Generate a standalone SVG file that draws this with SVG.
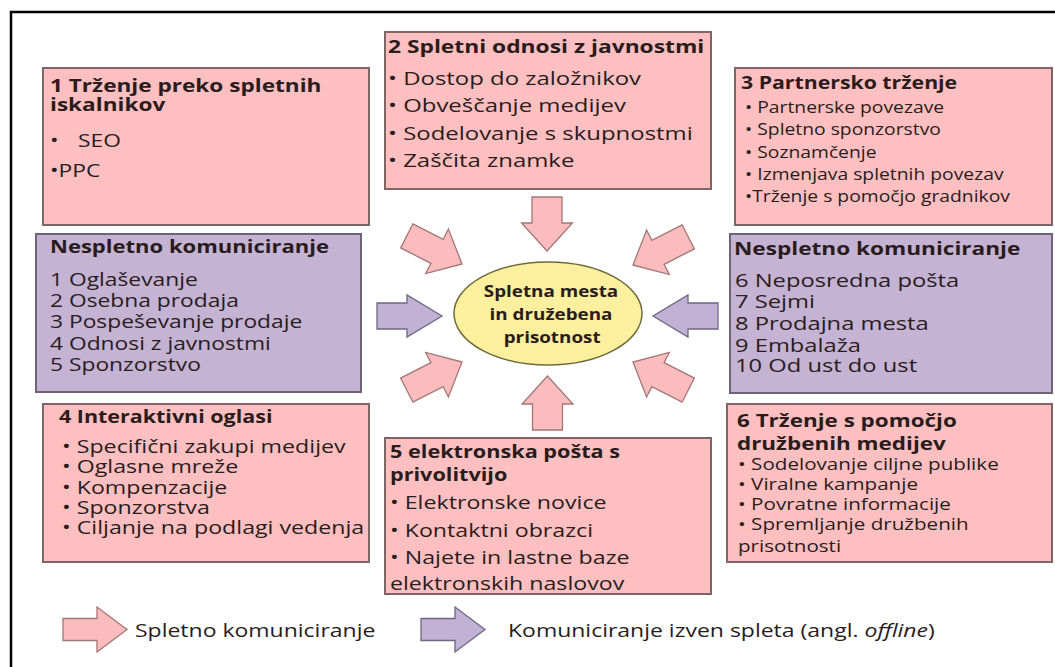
<svg xmlns="http://www.w3.org/2000/svg" width="1055" height="667" viewBox="0 0 1055 667">
  <style>
    .pk { fill: #fdbfc0; stroke: #7e6666; stroke-width: 2; }
    .pu { fill: #c4b3d3; stroke: #6e6276; stroke-width: 2; }
    .ell { fill: #fcef9d; stroke: #6f6a3c; stroke-width: 1.5; }
    .apk { fill: #fbbcbd; stroke: #a37676; stroke-width: 1.3; }
    .apu { fill: #c1b1d5; stroke: #6f6684; stroke-width: 1.3; }
    text { font-family: "Open Sans", "Noto Sans", sans-serif; fill: #2a1c1c; }
    .h { font-weight: bold; font-size: 18px; }
    .b { font-size: 18px; }
    .s { font-size: 16px; }
    .c { font-weight: bold; font-size: 16.5px; text-anchor: middle; }
    .lg { font-size: 19px; }
  </style>
  <defs>
    <!-- block arrows, tip at origin, pointing along +x -->
    <path id="arrV" d="M0,0 L-28,-25.5 L-28,-15 L-54,-15 L-54,15 L-28,15 L-28,25.5 Z"/>
    <path id="arrH" d="M0,0 L-35,-21 L-35,-13 L-65,-13 L-65,13 L-35,13 L-35,21 Z"/>
    <path id="arrD" d="M0,0 L-28,-25 L-28,-13.5 L-62,-13.5 L-62,13.5 L-28,13.5 L-28,25 Z"/>
    <path id="arrL" d="M0,0 L-30,-22.5 L-30,-11 L-64,-11 L-64,11 L-30,11 L-30,22.5 Z"/>
  </defs>

  <!-- frame -->
  <path d="M11,667 L11,12 L1055,12" fill="none" stroke="#000" stroke-width="2.5"/>

  <!-- connectors -->
  <g id="connectors">
    <use href="#arrV" class="apk" transform="translate(547,251) rotate(90)"/>
    <use href="#arrV" class="apk" transform="translate(547.5,376) rotate(-90)"/>
    <use href="#arrH" class="apu" transform="translate(442,316)"/>
    <use href="#arrH" class="apu" transform="translate(653,316) rotate(180)"/>
    <use href="#arrD" class="apk" transform="translate(462,264) rotate(27)"/>
    <use href="#arrD" class="apk" transform="translate(633,265) rotate(153)"/>
    <use href="#arrD" class="apk" transform="translate(462,362) rotate(-27)"/>
    <use href="#arrD" class="apk" transform="translate(633,362) rotate(-153)"/>
  </g>

  <!-- centre -->
  <g id="center">
    <ellipse class="ell" cx="548" cy="313.5" rx="94" ry="51.5"/>
    <g transform="translate(551 0) scale(1.14 1) translate(-551 0)">
      <text class="c" x="551" y="297">Spletna mesta</text>
      <text class="c" x="551" y="320">in družebena</text>
      <text class="c" x="552" y="343">prisotnost</text>
    </g>
  </g>

  <g id="box1">
    <rect class="pk" x="43" y="68" width="326" height="157"/>
    <g transform="translate(50 0) scale(1.256 1) translate(-50 0)">
      <text class="h" x="50" y="92">1 Trženje preko spletnih</text>
      <text class="h" x="50" y="111">iskalnikov</text>
    </g>
    <g transform="translate(50 0) scale(1.267 1) translate(-50 0)">
      <text class="b" x="50" y="147">•<tspan x="72.1">SEO</tspan></text>
      <text class="b" x="50" y="177">•PPC</text>
    </g>
  </g>

  <g id="box2">
    <rect class="pk" x="385" y="32" width="326" height="157"/>
    <g transform="translate(388 0) scale(1.267 1) translate(-388 0)">
      <text class="h" x="388" y="53">2 Spletni odnosi z javnostmi</text>
    </g>
    <g transform="translate(388 0) scale(1.33 1) translate(-388 0)">
      <text class="b" x="388" y="85">• Dostop do založnikov</text>
      <text class="b" x="388" y="112">• Obveščanje medijev</text>
      <text class="b" x="388" y="140">• Sodelovanje s skupnostmi</text>
      <text class="b" x="388" y="167">• Zaščita znamke</text>
    </g>
  </g>

  <g id="box3">
    <rect class="pk" x="735" y="68" width="317" height="157"/>
    <g transform="translate(741 0) scale(1.182 1) translate(-741 0)">
      <text class="h" x="741" y="89">3 Partnersko trženje</text>
    </g>
    <g transform="translate(745 0) scale(1.206 1) translate(-745 0)">
      <text class="s" x="745" y="113">• Partnerske povezave</text>
      <text class="s" x="745" y="135">• Spletno sponzorstvo</text>
      <text class="s" x="745" y="158">• Soznamčenje</text>
      <text class="s" x="745" y="180">• Izmenjava spletnih povezav</text>
      <text class="s" x="745" y="202">•Trženje s pomočjo gradnikov</text>
    </g>
  </g>

  <g id="offline-left">
    <rect class="pu" x="36" y="234" width="325" height="158"/>
    <g transform="translate(50 0) scale(1.224 1) translate(-50 0)">
      <text class="h" x="50" y="253">Nespletno komuniciranje</text>
    </g>
    <g transform="translate(50 0) scale(1.267 1) translate(-50 0)">
      <text class="b" x="50" y="286">1 Oglaševanje</text>
      <text class="b" x="50" y="307">2 Osebna prodaja</text>
      <text class="b" x="50" y="328">3 Pospeševanje prodaje</text>
      <text class="b" x="50" y="350">4 Odnosi z javnostmi</text>
      <text class="b" x="50" y="371">5 Sponzorstvo</text>
    </g>
  </g>

  <g id="offline-right">
    <rect class="pu" x="730" y="234" width="322" height="159"/>
    <g transform="translate(734 0) scale(1.256 1) translate(-734 0)">
      <text class="h" x="734" y="255">Nespletno komuniciranje</text>
    </g>
    <g transform="translate(735 0) scale(1.319 1) translate(-735 0)">
      <text class="b" x="735" y="287">6 Neposredna pošta</text>
      <text class="b" x="735" y="308">7 Sejmi</text>
      <text class="b" x="735" y="330">8 Prodajna mesta</text>
      <text class="b" x="735" y="352">9 Embalaža</text>
      <text class="b" x="735" y="372">10 Od ust do ust</text>
    </g>
  </g>

  <g id="box4">
    <rect class="pk" x="43" y="404" width="326" height="158"/>
    <g transform="translate(59 0) scale(1.193 1) translate(-59 0)">
      <text class="h" x="59" y="423">4 Interaktivni oglasi</text>
    </g>
    <g transform="translate(62 0) scale(1.288 1) translate(-62 0)">
      <text class="b" x="62" y="453">• Specifični zakupi medijev</text>
      <text class="b" x="62" y="473">• Oglasne mreže</text>
      <text class="b" x="62" y="494">• Kompenzacije</text>
      <text class="b" x="62" y="514">• Sponzorstva</text>
      <text class="b" x="62" y="534">• Ciljanje na podlagi vedenja</text>
    </g>
  </g>

  <g id="box5">
    <rect class="pk" x="385" y="438" width="326" height="156"/>
    <g transform="translate(390 0) scale(1.203 1) translate(-390 0)">
      <text class="h" x="390" y="458">5 elektronska pošta s</text>
      <text class="h" x="390" y="481">privolitvijo</text>
    </g>
    <g transform="translate(390 0) scale(1.288 1) translate(-390 0)">
      <text class="b" x="390" y="509">• Elektronske novice</text>
      <text class="b" x="390" y="537">• Kontaktni obrazci</text>
      <text class="b" x="390" y="564">• Najete in lastne baze</text>
      <text class="b" x="390" y="590">elektronskih naslovov</text>
    </g>
  </g>

  <g id="box6">
    <rect class="pk" x="727" y="404" width="325" height="158"/>
    <g transform="translate(737 0) scale(1.246 1) translate(-737 0)">
      <text class="h" x="737" y="427">6 Trženje s pomočjo</text>
      <text class="h" x="737" y="450">družbenih medijev</text>
    </g>
    <g transform="translate(738 0) scale(1.289 1) translate(-738 0)">
      <text class="s" x="738" y="470">• Sodelovanje ciljne publike</text>
      <text class="s" x="738" y="490">• Viralne kampanje</text>
      <text class="s" x="738" y="510">• Povratne informacije</text>
      <text class="s" x="738" y="530">• Spremljanje družbenih</text>
      <text class="s" x="738" y="552">prisotnosti</text>
    </g>
  </g>

  <g id="legend">
    <use href="#arrL" class="apk" transform="translate(127,629.5)"/>
    <use href="#arrL" class="apu" transform="translate(485,629.5)"/>
    <g transform="translate(135 0) scale(1.21 1) translate(-135 0)">
      <text class="lg" x="135" y="637">Spletno komuniciranje</text>
    </g>
    <g transform="translate(508 0) scale(1.21 1) translate(-508 0)">
      <text class="lg" x="508" y="637">Komuniciranje izven spleta (angl. <tspan font-style="italic">offline</tspan>)</text>
    </g>
  </g>
</svg>
